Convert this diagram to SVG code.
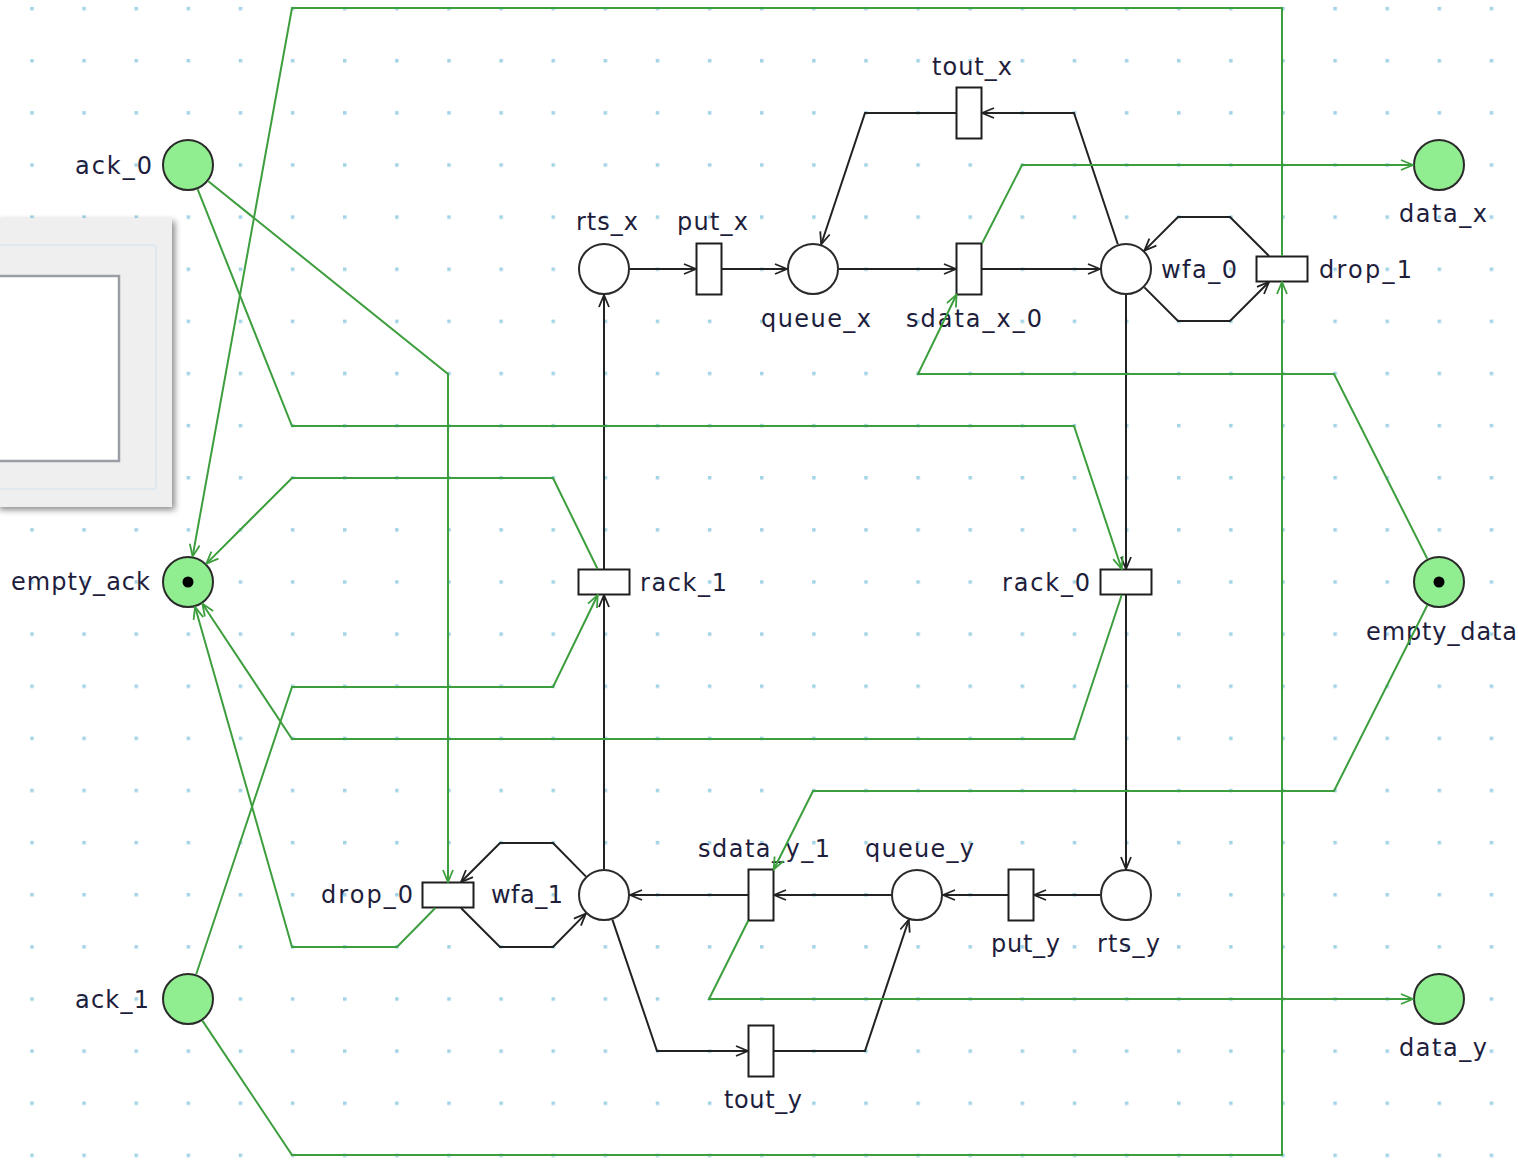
<svg xmlns="http://www.w3.org/2000/svg" width="1518" height="1161" viewBox="0 0 1518 1161">
<style>
.pl{fill:#fff;stroke:#2a2a2a;stroke-width:2}
.gp{fill:#90ee90;stroke:#2a2a2a;stroke-width:2}
.tr{fill:#fff;stroke:#1e1e1e;stroke-width:2}
.tok{fill:#000}
.lb{font-family:"DejaVu Sans","Liberation Sans",sans-serif;font-size:24px;fill:#1e1e3c}
.ab{fill:none;stroke:#222;stroke-width:2;marker-end:url(#mb)}
.ag{fill:none;stroke:#3d9e3d;stroke-width:2;marker-end:url(#mg)}
</style>
<defs>
<pattern id="grid" patternUnits="userSpaceOnUse" x="30.25" y="6.875" width="52.125" height="52.125">
<rect x="0" y="0" width="3.5" height="3.5" fill="#a3d4e6"/>
</pattern>
<marker id="mb" viewBox="0 0 14 12" refX="13" refY="6" markerWidth="14" markerHeight="12" markerUnits="userSpaceOnUse" orient="auto">
<path d="M1,1 L13,6 L1,11" fill="none" stroke="#222" stroke-width="1.8"/>
</marker>
<marker id="mg" viewBox="0 0 14 12" refX="13" refY="6" markerWidth="14" markerHeight="12" markerUnits="userSpaceOnUse" orient="auto">
<path d="M1,1 L13,6 L1,11" fill="none" stroke="#3d9e3d" stroke-width="1.8"/>
</marker>
<filter id="sh" x="-10%" y="-10%" width="130%" height="130%">
<feGaussianBlur in="SourceAlpha" stdDeviation="3"/>
<feOffset dx="3" dy="3" result="b"/>
<feComponentTransfer><feFuncA type="linear" slope="0.45"/></feComponentTransfer>
<feMerge><feMergeNode/><feMergeNode in="SourceGraphic"/></feMerge>
</filter>
</defs>
<rect x="0" y="0" width="1518" height="1161" fill="#fff"/>
<rect x="0" y="0" width="1518" height="1161" fill="url(#grid)"/>

<g id="panel">
<rect x="-4" y="218" width="176" height="289" fill="#efefef" filter="url(#sh)"/>
<rect x="-6" y="245" width="162" height="244" rx="3" fill="none" stroke="#dbe6ef" stroke-width="1.5"/>
<rect x="-4" y="276" width="123" height="185" fill="#fff" stroke="#9a9ea4" stroke-width="2.5"/>
</g>

<g id="nodes">
<g id="ack_0"><circle class="gp" cx="188" cy="165" r="25"/><text class="lb" x="75" y="174" textLength="77">ack_0</text></g>
<g id="empty_ack"><circle class="gp" cx="188" cy="582" r="25"/><circle class="tok" cx="188" cy="582" r="5.5"/><text class="lb" x="11" y="590" textLength="139">empty_ack</text></g>
<g id="ack_1"><circle class="gp" cx="188" cy="999" r="25"/><text class="lb" x="75" y="1008" textLength="74">ack_1</text></g>
<g id="rts_x"><circle class="pl" cx="604" cy="269" r="25"/><text class="lb" x="576" y="230" textLength="62">rts_x</text></g>
<g id="put_x"><rect class="tr" x="696.5" y="243.5" width="25" height="51"/><text class="lb" x="677" y="230" textLength="71">put_x</text></g>
<g id="queue_x"><circle class="pl" cx="813" cy="269" r="25"/><text class="lb" x="761" y="327" textLength="110">queue_x</text></g>
<g id="tout_x"><rect class="tr" x="956.5" y="87.5" width="25" height="51"/><text class="lb" x="932" y="75" textLength="80">tout_x</text></g>
<g id="sdata_x_0"><rect class="tr" x="956.5" y="243.5" width="25" height="51"/><text class="lb" x="906" y="327" textLength="136">sdata_x_0</text></g>
<g id="wfa_0"><circle class="pl" cx="1126" cy="269" r="25"/><text class="lb" x="1161" y="278" textLength="76">wfa_0</text></g>
<g id="drop_1"><rect class="tr" x="1256.5" y="256.5" width="51" height="25"/><text class="lb" x="1319" y="278" textLength="93">drop_1</text></g>
<g id="data_x"><circle class="gp" cx="1439" cy="165" r="25"/><text class="lb" x="1399" y="222" textLength="88">data_x</text></g>
<g id="empty_data"><circle class="gp" cx="1439" cy="582" r="25"/><circle class="tok" cx="1439" cy="582" r="5.5"/><text class="lb" x="1366" y="640" textLength="151">empty_data</text></g>
<g id="data_y"><circle class="gp" cx="1439" cy="999" r="25"/><text class="lb" x="1399" y="1056" textLength="88">data_y</text></g>
<g id="rack_1"><rect class="tr" x="578.5" y="569.5" width="51" height="25"/><text class="lb" x="640" y="591" textLength="87">rack_1</text></g>
<g id="rack_0"><rect class="tr" x="1100.5" y="569.5" width="51" height="25"/><text class="lb" x="1002" y="591" textLength="88">rack_0</text></g>
<g id="drop_0"><rect class="tr" x="422.5" y="882.5" width="51" height="25"/><text class="lb" x="321" y="903" textLength="92">drop_0</text></g>
<g id="wfa_1"><circle class="pl" cx="604" cy="895" r="25"/><text class="lb" x="491" y="903" textLength="72">wfa_1</text></g>
<g id="sdata_y_1"><rect class="tr" x="748.5" y="869.5" width="25" height="51"/><text class="lb" x="698" y="857" textLength="132">sdata_y_1</text></g>
<g id="queue_y"><circle class="pl" cx="917" cy="895" r="25"/><text class="lb" x="865" y="857" textLength="109">queue_y</text></g>
<g id="put_y"><rect class="tr" x="1008.5" y="869.5" width="25" height="51"/><text class="lb" x="991" y="952" textLength="69">put_y</text></g>
<g id="rts_y"><circle class="pl" cx="1126" cy="895" r="25"/><text class="lb" x="1097" y="952" textLength="63">rts_y</text></g>
<g id="tout_y"><rect class="tr" x="748.5" y="1025.5" width="25" height="51"/><text class="lb" x="724" y="1108" textLength="78">tout_y</text></g>
</g>

<g id="connectors">
<path class="ab" d="M630,269 L696,269"/>
<path class="ab" d="M722,269 L787,269"/>
<path class="ab" d="M839,269 L956,269"/>
<path class="ab" d="M982,269 L1100,269"/>
<path class="ab" d="M1117.8,244.3 L1074,113 L982,113"/>
<path class="ab" d="M956,113 L865,113 L821.2,244.3"/>
<path class="ab" d="M1144.4,287.4 L1178,321 L1230,321 L1269,282"/>
<path class="ab" d="M1269,256 L1230,217 L1178,217 L1144.4,250.6"/>
<path class="ab" d="M1126,295 L1126,569"/>
<path class="ab" d="M1126,595 L1126,869"/>
<path class="ab" d="M1100,895 L1034,895"/>
<path class="ab" d="M1008,895 L943,895"/>
<path class="ab" d="M891,895 L774,895"/>
<path class="ab" d="M748,895 L630,895"/>
<path class="ab" d="M612.4,919.6 L657,1051 L748,1051"/>
<path class="ab" d="M774,1051 L865,1051 L908.8,919.7"/>
<path class="ab" d="M585.8,876.4 L553,843 L500,843 L461,882"/>
<path class="ab" d="M461,908 L500,947 L553,947 L585.8,913.6"/>
<path class="ab" d="M604,869 L604,595"/>
<path class="ab" d="M604,569 L604,295"/>

<path class="ag" d="M208.3,181.3 L448,374 L448,882"/>
<path class="ag" d="M197.6,189.2 L292,426 L1074,426 L1121.7,569"/>
<path class="ag" d="M1282,256 L1282,8 L292,8 L192.6,556.4"/>
<path class="ag" d="M202.4,1020.6 L292,1155 L1282,1155 L1282,282"/>
<path class="ag" d="M196.2,974.3 L292,687 L553,687 L597.7,595"/>
<path class="ag" d="M597.6,569 L553,478 L292,478 L206.4,563.6"/>
<path class="ag" d="M1121.7,595 L1074,739 L292,739 L202.4,603.7"/>
<path class="ag" d="M435.3,908 L397,947 L292,947 L195.1,607"/>
<path class="ag" d="M982,243.5 L1022,165 L1413,165"/>
<path class="ag" d="M1427.3,558.8 L1334,374 L918,374 L956.6,294.5"/>
<path class="ag" d="M1427.3,605.2 L1334,791 L813,791 L773.7,869.5"/>
<path class="ag" d="M748.3,920.5 L709,999 L1413,999"/>
</g>
</svg>
